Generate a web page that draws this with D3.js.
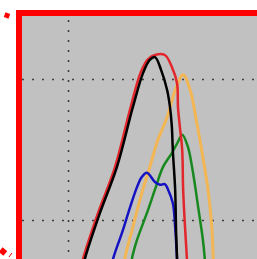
<!DOCTYPE html>
<html>
<head>
<meta charset="utf-8">
<script src="https://cdn.jsdelivr.net/npm/d3@7"></script>
<style>
  body { margin: 0; background: #fff; }
  svg { display: block; }
</style>
</head>
<body>
<div id="chart"></div>
<script>
/*global d3*/

//size of the svg
var w = 257,
    h = 259;

//plot area inside the red frame
var plotLeft = 22,
    plotTop = 16;

//gridline values
var xGrid = [0],
    yGrid = [20, 40];

//series values (x, y)
var blackX = [2.6, 3.6, 6.8, 10.4, 13.8, 16.0, 17.4, 18.5, 19.8, 21.1, 21.7, 22.1, 22.3, 22.8, 23.0, 23.2, 23.4];
var blackY = [11.5, 14.5, 21.0, 27.5, 36.0, 40.9, 42.7, 43.1, 41.3, 38.4, 36.0, 33.2, 29.9, 24.3, 18.2, 14.5, 11.5];

var redX = [2.1, 3.2, 6.4, 10.0, 13.4, 15.5, 17.0, 18.5, 20.6, 22.1, 23.2, 23.4, 23.8, 24.3, 24.5, 24.9, 25.3, 25.5];
var redY = [11.5, 14.5, 21.0, 27.5, 36.2, 41.0, 42.8, 43.4, 43.4, 41.7, 39.4, 36.0, 33.2, 29.9, 24.3, 19.0, 14.5, 11.5];

var orangeX = [11.7, 12.1, 13.8, 15.7, 17.4, 19.1, 21.1, 22.8, 24.5, 26.0, 27.4, 28.7, 29.8, 30.6, 30.9, 31.1];
var orangeY = [11.5, 14.5, 19.0, 23.8, 27.5, 31.3, 34.6, 38.4, 40.6, 38.4, 33.8, 28.9, 24.3, 19.0, 14.5, 11.5];

var greenX = [13.0, 13.6, 14.7, 16.8, 18.5, 20.2, 22.1, 23.4, 24.3, 25.5, 26.6, 27.7, 28.7, 29.1, 29.4];
var greenY = [11.5, 14.5, 17.2, 21.0, 24.3, 27.5, 29.5, 31.1, 32.1, 30.4, 26.7, 21.8, 17.2, 14.5, 11.5];

var blueX = [8.7, 9.6, 11.5, 13.2, 14.7, 15.7, 16.8, 18.5, 19.6, 20.6, 21.3, 22.3, 22.8, 23.2, 23.4];
var blueY = [11.5, 14.5, 18.2, 21.8, 24.7, 26.1, 26.7, 25.4, 25.0, 25.1, 24.3, 22.4, 19.0, 14.5, 11.5];

//draw order, back to front
var series = [
    {id: "orange", color: "#f2b654", xs: orangeX, ys: orangeY},
    {id: "green", color: "#17891f", xs: greenX, ys: greenY},
    {id: "red", color: "#e3262b", xs: redX, ys: redY},
    {id: "blue", color: "#1512c4", xs: blueX, ys: blueY},
    {id: "black", color: "#000000", xs: blackX, ys: blackY}
];

var svg = d3.select("#chart")
    .append("svg")
        .attr("width", w)
        .attr("height", h);

//scales
var x = d3.scaleLinear().domain([0, 50]).range([68, 303]),
    y = d3.scaleLinear().domain([20, 40]).range([220, 79]);

//clip to the plot area
svg.append("clipPath")
    .attr("id", "plotClip")
  .append("rect")
    .attr("x", plotLeft)
    .attr("y", plotTop)
    .attr("width", w - plotLeft)
    .attr("height", h - plotTop);

//gray background
svg.append("rect")
    .attr("x", plotLeft)
    .attr("y", plotTop)
    .attr("width", w - plotLeft)
    .attr("height", h - plotTop)
    .attr("fill", "#c1c1c1");

//horizontal dotted gridlines
svg.append("g")
    .attr("class", "grid grid--y")
    .attr("transform", "translate(" + plotLeft + ",0)")
    .call(d3.axisLeft(y).tickValues(yGrid).tickSize(-(w - plotLeft)).tickFormat(""));

//vertical dotted gridlines
var xAxis = svg.append("g")
    .attr("class", "grid grid--x")
    .attr("transform", "translate(0," + plotTop + ")")
    .call(d3.axisTop(x).tickValues(xGrid).tickSize(-(h - plotTop)).tickFormat(""));

svg.selectAll(".grid .domain").remove();
svg.selectAll(".grid line")
    .attr("stroke", "#3f3f3f")
    .attr("stroke-width", 1.6)
    .attr("stroke-dasharray", "2 8");
xAxis.selectAll("line").attr("stroke-dashoffset", 6);

//line generator
var line = d3.line()
    .curve(d3.curveCatmullRom.alpha(0.5))
    .x(function(d) { return x(d[0]); })
    .y(function(d) { return y(d[1]); });

var curves = svg.append("g")
    .attr("clip-path", "url(#plotClip)");

curves.selectAll(".curve")
    .data(series)
    .enter().append("path")
        .attr("class", "curve")
        .attr("d", function(d) { return line(d3.zip(d.xs, d.ys)); })
        .attr("fill", "none")
        .attr("stroke", function(d) { return d.color; })
        .attr("stroke-width", function(d) { return d.id === "orange" ? 3 : 2.5; })
        .attr("stroke-linejoin", "round");

//red frame
svg.append("rect")
    .attr("x", 19)
    .attr("y", 13)
    .attr("width", 400)
    .attr("height", 400)
    .attr("fill", "none")
    .attr("stroke", "#ff0000")
    .attr("stroke-width", 6);

//stray red marks at the left edge
svg.append("rect")
    .attr("x", -2.5)
    .attr("y", -2.5)
    .attr("width", 5)
    .attr("height", 5)
    .attr("fill", "#ff0000")
    .attr("transform", "translate(7,15.5) rotate(20)");

svg.append("rect")
    .attr("x", -3)
    .attr("y", -3)
    .attr("width", 6)
    .attr("height", 6)
    .attr("fill", "#ff0000")
    .attr("transform", "translate(3,251.5) rotate(40)");

svg.append("line")
    .attr("x1", 9)
    .attr("y1", 257)
    .attr("x2", 12)
    .attr("y2", 253)
    .attr("stroke", "#ff0000")
    .attr("stroke-width", 1);
</script>
</body>
</html>
